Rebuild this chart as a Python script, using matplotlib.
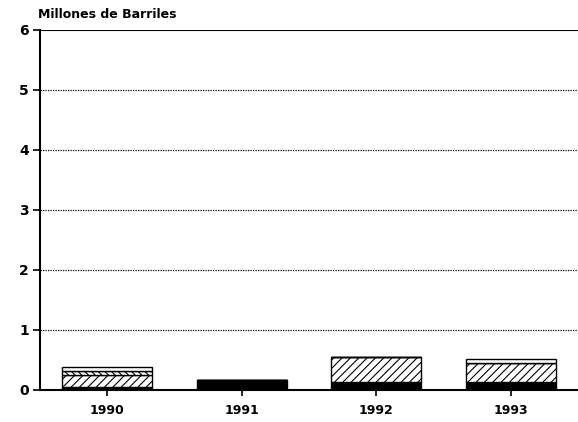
import numpy as np
import matplotlib.pyplot as plt

YEARS = ["1990", "1991", "1992", "1993"]

# stacked layers, millones de barriles
base = [0.05, 0.17, 0.13, 0.13]
hatched = [0.20, 0.00, 0.42, 0.32]
dense = [0.07, 0.00, 0.00, 0.00]
top = [0.06, 0.00, 0.00, 0.07]

plt.rcParams["hatch.linewidth"] = 0.8

fig = plt.figure(figsize=(5.78, 4.22), dpi=100)
ax = fig.add_axes([0.069, 0.076, 0.931, 0.853])

x = np.arange(len(YEARS))
w = 0.67

b0 = np.array(base)
b1 = b0 + np.array(hatched)
b2 = b1 + np.array(dense)

ax.bar(x, base, w, color="black", edgecolor="black", linewidth=1, zorder=3)
ax.bar(x, hatched, w, bottom=b0, color="white", edgecolor="black",
       hatch="////", linewidth=1, zorder=3)
ax.bar(x, dense, w, bottom=b1, color="white", edgecolor="black",
       hatch="\\\\\\\\\\", linewidth=1, zorder=3)
ax.bar(x, top, w, bottom=b2, color="white", edgecolor="black",
       linewidth=1, zorder=3)

ax.set_xlim(-0.5, 3.5)
ax.set_ylim(0, 6)

for yv in range(1, 6):
    ax.axhline(yv, color="black", linestyle=(0, (1, 1)), linewidth=0.9, zorder=1)
ax.axhline(6, color="black", linewidth=1.5, zorder=2)

ax.spines["top"].set_visible(False)
ax.spines["right"].set_visible(False)
ax.spines["left"].set_linewidth(1.5)
ax.spines["bottom"].set_linewidth(1.5)

ax.set_yticks(range(0, 7))
ax.set_yticklabels([str(v) for v in range(0, 7)], fontweight="bold", fontsize=10)
ax.set_xticks(x)
ax.set_xticklabels(YEARS, fontweight="bold", fontsize=9)
ax.tick_params(axis="y", length=5, width=1.2, pad=3)
ax.tick_params(axis="x", length=4, width=1.2, pad=6)

fig.text(0.066, 0.965, "Millones de Barriles", fontsize=9, fontweight="bold",
         ha="left", va="center")

fig.savefig("out.png", dpi=100)
